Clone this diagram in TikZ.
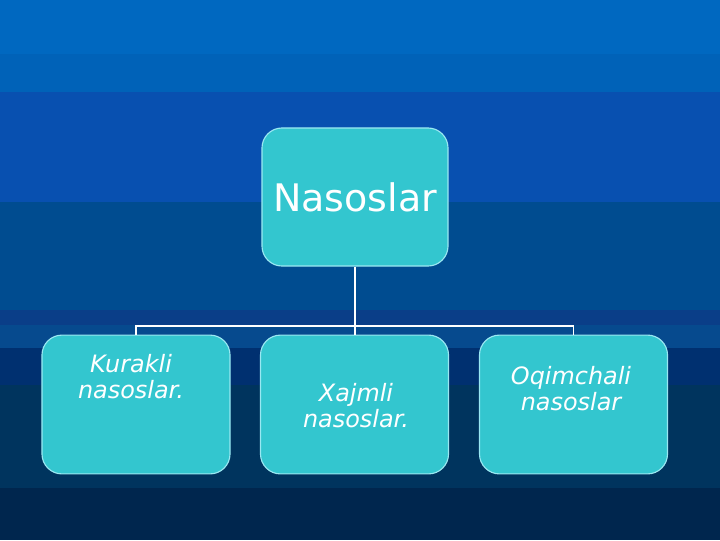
\documentclass[tikz,border=0pt]{standalone}
\usepackage{fontspec}
\setmainfont{DejaVu Sans}
\usepackage{tikz}
\usetikzlibrary{positioning}

\definecolor{bandA}{HTML}{0068C0}
\definecolor{bandB}{HTML}{0062B8}
\definecolor{bandC}{HTML}{0850B0}
\definecolor{bandD}{HTML}{004C90}
\definecolor{bandE}{HTML}{0A3E88}
\definecolor{bandF}{HTML}{064A8E}
\definecolor{bandG}{HTML}{003070}
\definecolor{bandH}{HTML}{00345E}
\definecolor{bandI}{HTML}{00264E}
\definecolor{boxfill}{HTML}{33C6CF}
\definecolor{boxline}{HTML}{9AE8F2}

\tikzset{
  box/.style={draw=boxline, line width=0.8pt, fill=boxfill, rounded corners=0.5cm,
    minimum width=4.7cm, minimum height=3.47cm, inner sep=0pt},
  boxtext/.style={text=white, align=center, font=\itshape\fontsize{17}{18.5}\selectfont},
  conn/.style={draw=white, line width=1.3pt}
}

\begin{document}
\begin{tikzpicture}[x=0.025cm, y=-0.025cm]

% background bands
\fill[bandA] (0,0) rectangle (720,54);
\fill[bandB] (0,54) rectangle (720,92);
\fill[bandC] (0,92) rectangle (720,202);
\fill[bandD] (0,202) rectangle (720,310);
\fill[bandE] (0,310) rectangle (720,325);
\fill[bandF] (0,325) rectangle (720,348);
\fill[bandG] (0,348) rectangle (720,385);
\fill[bandH] (0,385) rectangle (720,488);
\fill[bandI] (0,488) rectangle (720,540);
\useasboundingbox (0,0) rectangle (720,540);

\node[box, minimum width=4.65cm, minimum height=3.45cm] (root) at (355,197)
  {\color{white}\fontsize{27}{32}\selectfont Nasoslar};

\node[box] (k1) at (136,404.5) {};
\node[box] (k2) at (354.5,404.5) {};
\node[box] (k3) at (573.5,404.5) {};

\node[boxtext] (k1t) at (131,377) {Kurakli\\nasoslar.};
\node[boxtext] (k2t) at (356,406) {Xajmli\\nasoslar.};
\node[boxtext] (k3t) at (571,389) {Oqimchali\\nasoslar};

\coordinate (bus) at (355,326);
\draw[conn] (k1.north) |- (bus) -| (k3.north);
\draw[conn] (root.south) -- (root.south |- k2.north);

\end{tikzpicture}
\end{document}
